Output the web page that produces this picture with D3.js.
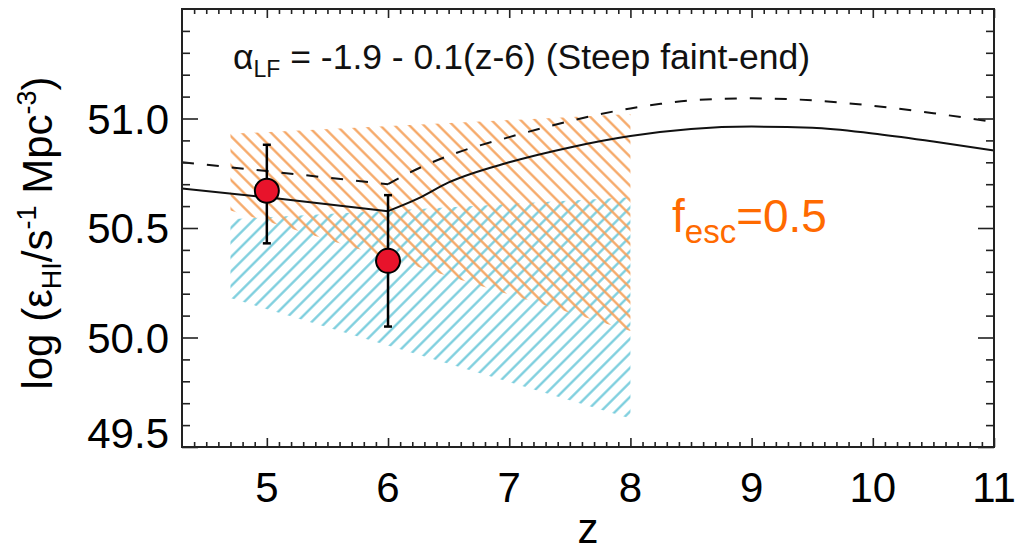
<!DOCTYPE html>
<html>
<head>
<meta charset="utf-8">
<script src="https://cdn.jsdelivr.net/npm/d3@7"></script>
<style>
  html, body { margin: 0; padding: 0; background: #fff; }
  svg { display: block; font-family: "Liberation Sans", Arial, Helvetica, sans-serif; }
</style>
</head>
<body>
<svg id="chart" width="1015" height="553"></svg>
<script>
// Redshift grid and model curves
const solidZ   = [4.3, 5, 6, 6.25, 6.5, 7, 7.5, 8, 8.5, 9, 9.5, 10, 10.5, 11];
const solidVal = [50.68, 50.64, 50.577, 50.635, 50.708, 50.80, 50.868, 50.92, 50.952, 50.963, 50.958, 50.932, 50.895, 50.854];

const dashZ   = [4.3, 5, 6, 6.15, 6.5, 7, 7.3, 7.5, 7.75, 8, 8.25, 8.5, 9, 9.5, 10, 10.5, 11];
const dashVal = [50.80, 50.76, 50.70, 50.745, 50.83, 50.915, 50.96, 50.988, 51.02, 51.046, 51.067, 51.083, 51.092, 51.083, 51.058, 51.024, 50.984];

// Hatched bands (edges at the band ends)
const bandZ        = [4.7, 8];
const orangeTop    = [50.93, 51.02];
const orangeBottom = [50.58, 50.03];
const cyanTop      = [50.54, 50.64];
const cyanBottom   = [50.18, 49.63];

// Measurements with error bars
const obsZ   = [5, 6];
const obsVal = [50.67, 50.35];
const obsLo  = [50.43, 50.05];
const obsHi  = [50.88, 50.65];

// Axis ticks
const xMajor = [5, 6, 7, 8, 9, 10, 11];
const xLabels = ["5", "6", "7", "8", "9", "10", "11"];
const yMajor = [49.5, 50.0, 50.5, 51.0];
const yLabels = ["49.5", "50.0", "50.5", "51.0"];

const svg = d3.select("#chart");
const plotLeft = 182, plotRight = 994, plotTop = 9, plotBottom = 447;

const x = d3.scaleLinear().domain([4.3, 11]).range([plotLeft, plotRight]);
const y = d3.scaleLinear().domain([49.5, 51.5]).range([plotBottom, plotTop]);

const xMinor = d3.range(44, 111).map(d => d / 10).filter(v => !xMajor.some(m => Math.abs(m - v) < 1e-6));
const yMinor = d3.range(496, 515).map(d => d / 10).filter(v => !yMajor.some(m => Math.abs(m - v) < 1e-6));

// Hatch patterns (line fill at +/-45 degrees)
const defs = svg.append("defs");
function hatch(id, color, angle, gap) {
  const p = defs.append("pattern")
    .attr("id", id)
    .attr("patternUnits", "userSpaceOnUse")
    .attr("width", gap).attr("height", gap)
    .attr("patternTransform", `rotate(${angle})`);
  p.append("line")
    .attr("x1", gap / 2).attr("y1", -1).attr("x2", gap / 2).attr("y2", gap + 1)
    .attr("stroke", color).attr("stroke-width", 2.2);
}
hatch("hatchCyan", "#74cbdb", 45, 10.3);
hatch("hatchOrange", "#f5a25c", -45, 10.3);

const band = (lo, hi) => d3.area()
  .x((d, i) => x(bandZ[i]))
  .y0((d, i) => y(lo[i]))
  .y1((d, i) => y(hi[i]));

svg.append("path").datum(bandZ)
  .attr("d", band(cyanBottom, cyanTop))
  .attr("fill", "url(#hatchCyan)");
svg.append("path").datum(bandZ)
  .attr("d", band(orangeBottom, orangeTop))
  .attr("fill", "url(#hatchOrange)");

// Model curves: straight below z=6, smooth above
function drawCurve(zs, vs, dash) {
  const pts = zs.map((z, i) => [z, vs[i]]);
  const lowPart = pts.filter(p => p[0] <= 6);
  const highPart = pts.filter(p => p[0] >= 6);
  const g = svg.append("g")
    .attr("fill", "none")
    .attr("stroke", "#111")
    .attr("stroke-width", 2)
    .attr("stroke-dasharray", dash ? "12,13" : null);
  const lin = d3.line().x(p => x(p[0])).y(p => y(p[1]));
  const smooth = d3.line().x(p => x(p[0])).y(p => y(p[1])).curve(d3.curveMonotoneX);
  g.append("path").attr("d", lin(lowPart));
  g.append("path").attr("d", smooth(highPart));
}
drawCurve(solidZ, solidVal, false);
drawCurve(dashZ, dashVal, true);

// Error bars and points
const obs = obsZ.map((z, i) => ({ z, v: obsVal[i], lo: obsLo[i], hi: obsHi[i] }));
const eg = svg.append("g").attr("stroke", "#000").attr("stroke-width", 2.5);
eg.selectAll("line.v").data(obs).join("line").attr("class", "v")
  .attr("x1", d => x(d.z)).attr("x2", d => x(d.z))
  .attr("y1", d => y(d.lo)).attr("y2", d => y(d.hi));
eg.selectAll("line.t").data(obs).join("line").attr("class", "t")
  .attr("x1", d => x(d.z) - 4).attr("x2", d => x(d.z) + 4)
  .attr("y1", d => y(d.hi)).attr("y2", d => y(d.hi));
eg.selectAll("line.b").data(obs).join("line").attr("class", "b")
  .attr("x1", d => x(d.z) - 4).attr("x2", d => x(d.z) + 4)
  .attr("y1", d => y(d.lo)).attr("y2", d => y(d.lo));
svg.append("g").selectAll("circle").data(obs).join("circle")
  .attr("cx", d => x(d.z)).attr("cy", d => y(d.v)).attr("r", 12)
  .attr("fill", "#e8132b").attr("stroke", "#000").attr("stroke-width", 2);

// Axes with inward ticks
function axisGroup(axis, tx, ty) {
  const g = svg.append("g").attr("transform", `translate(${tx},${ty})`).call(axis);
  g.select(".domain").remove();
  g.selectAll(".tick line").attr("stroke", "#222").attr("stroke-width", 1.6);
  g.selectAll(".tick text").remove();
  return g;
}
axisGroup(d3.axisBottom(x).tickValues(xMinor).tickSize(-5).tickFormat(""), 0, plotBottom);
axisGroup(d3.axisBottom(x).tickValues(xMajor).tickSize(-9).tickFormat(""), 0, plotBottom);
axisGroup(d3.axisTop(x).tickValues(xMinor).tickSize(-5).tickFormat(""), 0, plotTop);
axisGroup(d3.axisTop(x).tickValues(xMajor).tickSize(-9).tickFormat(""), 0, plotTop);
axisGroup(d3.axisLeft(y).tickValues(yMinor).tickSize(-8).tickFormat(""), plotLeft, 0);
axisGroup(d3.axisLeft(y).tickValues(yMajor).tickSize(-16).tickFormat(""), plotLeft, 0);
axisGroup(d3.axisRight(y).tickValues(yMinor).tickSize(-8).tickFormat(""), plotRight, 0);
axisGroup(d3.axisRight(y).tickValues(yMajor).tickSize(-16).tickFormat(""), plotRight, 0);

svg.append("rect")
  .attr("x", plotLeft).attr("y", plotTop)
  .attr("width", plotRight - plotLeft).attr("height", plotBottom - plotTop)
  .attr("fill", "none").attr("stroke", "#222").attr("stroke-width", 2);

// Tick labels
svg.append("g").selectAll("text").data(xMajor).join("text")
  .attr("x", d => x(d)).attr("y", 502)
  .attr("text-anchor", "middle").attr("font-size", 42).attr("fill", "#000")
  .text((d, i) => xLabels[i]);
svg.append("g").selectAll("text").data(yMajor).join("text")
  .attr("x", 169)
  .attr("y", d => Math.min(y(d) + 15, plotBottom + 1))
  .attr("text-anchor", "end").attr("font-size", 42).attr("fill", "#000")
  .text((d, i) => yLabels[i]);

// Axis titles
svg.append("text")
  .attr("x", (plotLeft + plotRight) / 2).attr("y", 543)
  .attr("text-anchor", "middle").attr("font-size", 42).text("z");

const yt = svg.append("text")
  .attr("transform", `translate(52, ${(plotTop + plotBottom) / 2 + 5}) rotate(-90)`)
  .attr("text-anchor", "middle").attr("font-size", 42);
yt.append("tspan").text("log (ε");
yt.append("tspan").attr("font-size", 27).attr("dy", 9).text("HI");
yt.append("tspan").attr("dy", -9).text("/s");
yt.append("tspan").attr("font-size", 27).attr("dy", -16).text("-1");
yt.append("tspan").attr("dy", 16).text(" Mpc");
yt.append("tspan").attr("font-size", 27).attr("dy", -16).text("-3");
yt.append("tspan").attr("dy", 16).text(")");

// Annotations
const ann = svg.append("text").attr("x", 233).attr("y", 69).attr("font-size", 35.5).attr("fill", "#111");
ann.append("tspan").text("α");
ann.append("tspan").attr("font-size", 23).attr("dy", 8).text("LF");
ann.append("tspan").attr("dy", -8).text(" = -1.9 - 0.1(z-6) (Steep faint-end)");

const fe = svg.append("text").attr("x", 672).attr("y", 232).attr("font-size", 46).attr("fill", "#ff6a00");
fe.append("tspan").text("f");
fe.append("tspan").attr("font-size", 33).attr("dy", 11).text("esc");
fe.append("tspan").attr("dy", -11).text("=0.5");
</script>
</body>
</html>
